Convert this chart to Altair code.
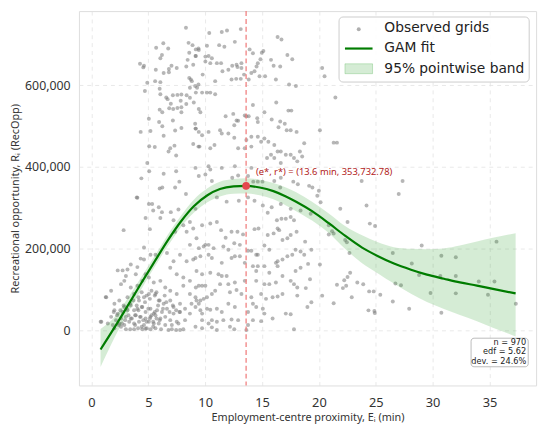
import altair as alt
import pandas as pd

# ---- observed grids: (E_i minutes, R_i in thousands) ----
obs_upper_left = [
(8.31,740.2),(8.54,703.4),(8.89,697.8),(9.18,687.4),(9.41,689.8),(5.69,691.4),(6.32,702.6),(6.75,689.8),
(6.20,673.8),(6.06,665.8),(9.18,671.4),(8.60,679.4),(8.46,661.8),(4.27,652.2),(4.62,647.4),(4.56,643.4),
(5.66,637.8),(6.35,629.8),(6.81,639.4),(7.04,647.4),(6.81,631.4),(7.50,641.8),(8.34,645.8),(8.95,649.8),
(8.60,617.8),(8.74,613.8),(8.83,609.8),(4.91,605.8),(5.60,609.8),(6.06,607.4),(6.00,591.4),(4.70,585.8),
(6.58,569.8),(6.70,565.8),(7.16,575.4),(7.56,576.2),(7.91,577.0),(8.37,575.4),(8.66,593.8),(9.12,597.8),
(9.41,601.8),(6.06,577.8),(7.85,561.8),(8.34,553.8),(6.98,554.6),(7.19,541.8),(6.84,543.4),(7.56,544.2),
(7.91,545.8),(7.91,533.8),(8.66,569.0),(9.00,557.8),(9.18,581.8),(6.00,540.2),(6.23,533.8),(5.05,517.8),
(7.16,513.8),(5.95,509.8),(6.23,499.4),(4.33,485.8),(5.19,488.2),(7.36,489.0),(7.91,495.4),(9.18,493.8),
(9.12,505.8),(6.35,476.2),(5.08,450.6),(5.57,449.0),(6.93,445.8),(7.30,452.2),(6.78,437.8),(7.45,428.2),
(8.95,456.2),(9.41,449.8),(4.91,409.8),(5.08,389.8),(6.35,383.4),(7.45,389.8),(4.39,372.2),(7.73,364.2),
(6.00,347.4),(6.23,349.8),(4.04,325.0),(8.31,333.8),(7.36,349.8),
]
obs_upper_mid = [
(10.36,727.4),(11.46,729.8),(11.92,733.8),(13.13,737.0),(12.61,705.8),(11.23,697.8),(11.69,693.8),(10.16,696.2),
(9.44,685.8),(9.15,671.4),(10.02,669.8),(10.30,671.4),(10.59,665.8),(10.02,657.8),(10.45,653.8),(11.03,653.8),
(11.40,653.8),(12.04,637.8),(12.38,647.4),(12.76,649.8),(12.84,644.2),(13.19,653.8),(13.91,687.4),(14.20,677.8),
(15.12,683.4),(14.98,679.4),(14.63,653.8),(14.52,645.8),(14.34,633.8),(14.06,629.8),(13.42,625.8),(13.19,641.8),
(14.86,663.4),(15.79,661.8),(16.37,717.8),(16.71,711.4),(17.23,673.8),(17.66,663.4),(16.02,647.4),(16.60,645.8),
(9.78,625.8),(10.88,609.8),(11.52,633.8),(12.32,613.8),(12.73,615.4),(13.13,615.4),(13.83,613.8),(14.78,621.8),
(15.27,621.8),(16.22,613.8),(17.38,601.8),(17.98,597.8),(9.29,593.8),(9.73,581.8),(10.16,581.8),(10.45,581.8),
(10.88,577.8),(9.44,541.8),(9.58,533.8),(11.80,524.2),(12.47,529.8),(12.76,513.8),(12.90,513.0),(12.56,501.8),
(13.48,525.8),(13.62,524.2),(13.83,524.2),(14.20,551.4),(14.58,519.4),(14.63,509.8),(15.21,533.8),(15.85,516.2),
(16.25,557.8),(16.60,511.4),(17.32,537.8),(17.58,537.8),(16.45,497.0),(17.00,505.8),(17.17,489.8),(17.52,489.8),
(18.04,485.8),(9.15,493.8),(9.44,485.8),(9.73,477.8),(10.30,485.8),(11.31,489.8),(11.46,481.8),(12.04,481.8),
(12.56,471.4),(13.62,465.8),(14.06,473.8),(14.63,473.8),(15.21,469.8),(15.56,461.8),(16.08,453.8),(16.37,437.8),
(16.65,437.8),(17.09,429.8),(17.52,429.8),(18.33,437.8),(18.53,425.8),(9.50,449.8),(10.45,445.8),(10.82,453.8),
(12.90,445.8),(13.48,445.8),(14.06,449.8),(14.92,461.8),(15.79,429.8),(16.08,421.8),(16.65,409.8),(17.81,421.8),
(18.10,413.8),(10.30,401.8),(10.45,393.8),(10.02,381.8),(11.46,397.8),(12.61,401.8),(14.06,397.8),(13.77,377.8),
(9.44,377.8),(9.15,397.8),(14.23,364.2),(14.63,364.2),(15.04,364.2),(15.44,421.8),(12.38,373.8),(12.90,379.4),
(16.08,365.8),(16.60,349.8),(17.75,364.2),(18.15,357.8),(10.59,365.8),(16.65,373.8),
]
obs_upper_right = [
(20.29,641.9),(20.50,621.9),(21.45,569.9),(20.09,489.9),(18.71,457.9),(21.30,459.5),(21.59,459.5),(19.14,353.9),
(19.43,349.9),(20.00,341.9),(19.86,329.9),(20.15,313.9),(21.88,297.9),(23.76,365.9),(24.19,305.9),(27.02,333.9),
(27.36,365.9),(19.28,285.9),
]
obs_lower_left = [
(3.98,325.7),(5.05,309.7),(5.34,309.7),(5.92,301.7),(5.43,293.7),(6.20,289.7),(6.98,289.7),(7.65,296.1),
(4.76,275.3),(6.06,275.3),(2.83,245.7),(5.14,248.1),(7.22,269.7),(8.08,257.7),(8.66,265.7),(7.36,241.7),
(8.37,241.7),(8.95,249.7),(9.24,225.7),(8.66,209.7),(4.62,203.3),(5.19,185.7),(5.63,185.7),(4.33,176.1),
(4.62,173.7),(3.46,161.7),(4.04,155.3),(2.31,147.3),(2.74,147.3),(3.17,149.7),(3.90,137.7),(4.76,137.7),
(5.05,129.7),(6.64,189.7),(7.22,169.7),(7.79,185.7),(8.37,169.7),(8.95,173.7),(6.93,153.7),(7.50,137.7),
(8.08,129.7),(8.66,121.7),(9.24,145.7),(3.03,133.7),(1.73,97.7),(1.30,81.7),(2.60,113.7),(2.89,121.7),
(3.46,105.7),(4.04,109.7),(4.47,121.7),(5.48,117.7),(6.06,121.7),(6.49,105.7),(6.93,97.7),(7.50,89.7),
(8.08,109.7),(8.66,89.7),(9.18,105.7),(2.02,65.7),(2.45,73.7),(2.89,57.7),(3.17,81.7),(3.75,89.7),
(4.18,73.7),(4.62,81.7),(5.05,89.7),(5.63,89.7),(5.92,73.7),(6.35,65.7),(6.93,73.7),(7.22,57.7),
(7.79,65.7),(8.23,53.7),(8.80,65.7),(9.24,73.7),(2.02,49.7),(2.31,41.7),(2.74,45.7),(3.17,49.7),
(3.46,61.7),(3.75,49.7),(4.04,53.7),(4.47,57.7),(4.76,45.7),(5.19,53.7),(5.48,41.7),(5.77,49.7),
(6.20,45.7),(6.64,53.7),(7.22,41.7),(7.79,45.7),(8.66,41.7),(1.73,33.7),(2.16,25.7),(2.60,29.7),
(3.03,33.7),(3.46,29.7),(3.90,37.7),(4.33,33.7),(4.76,29.7),(5.19,33.7),(5.63,37.7),(6.06,29.7),
(6.49,33.7),(6.93,25.7),(7.50,21.7),(8.23,25.7),(0.87,21.7),(1.44,17.7),(1.88,13.7),(2.45,17.7),
(2.89,13.7),(3.32,21.7),(3.75,17.7),(4.18,21.7),(4.62,13.7),(5.05,21.7),(5.48,17.7),(5.92,17.7),
(6.49,13.7),(7.07,13.7),(7.65,17.7),(2.02,5.7),(2.60,9.7),(3.03,3.3),(3.41,3.3),(3.75,3.3),
(4.10,5.7),(4.47,3.3),(4.76,4.9),(5.19,3.3),(5.63,5.7),(6.12,3.3),(6.78,1.7),(7.07,3.3),
(7.45,1.7),(7.79,1.7),(8.08,3.3),(0.81,22.0),(1.25,82.0),
(1.96,45.7),(2.25,37.7),(2.54,49.7),(2.83,61.7),(3.12,53.7),(3.41,65.7),(3.70,73.7),(3.98,61.7),
(4.13,49.7),(4.42,57.7),(4.71,69.7),(5.00,53.7),(5.28,37.7),(5.57,45.7),(5.86,61.7),(6.00,73.7),
(3.26,37.7),(3.55,29.7),(3.84,37.7),(4.27,33.7),(4.56,25.7),(4.85,21.7),(5.14,29.7),(5.43,21.7),
(2.97,25.7),(2.69,17.7),(2.40,13.7),(3.84,13.7),(4.42,9.7),(4.85,5.7),(5.43,9.7),(5.72,29.7),
(6.00,25.7),(6.29,53.7),(6.58,69.7),(6.87,45.7),(7.16,61.7),(7.45,49.7),(7.74,45.7),(4.13,81.7),
(4.42,93.7),(4.85,85.7),(5.14,77.7),(5.57,85.7),(6.44,85.7),(5.72,93.7),(5.28,97.7),
]
obs_lower_mid = [
(9.15,297.7),(11.03,325.7),(11.89,315.3),(12.96,317.7),(13.77,325.7),(14.34,317.7),(15.07,305.7),(15.85,301.7),
(16.65,309.7),(17.52,297.7),(9.73,257.7),(10.45,261.7),(11.03,265.7),(11.40,245.7),(11.80,227.3),(12.32,241.7),
(12.84,241.7),(13.33,235.3),(14.34,248.1),(14.69,249.7),(15.50,233.7),(16.02,237.7),(16.37,249.7),(16.51,245.7),
(16.31,269.7),(16.71,273.7),(15.50,288.1),(17.09,273.7),(17.52,277.7),(17.81,269.7),(17.23,225.7),(16.80,221.7),
(17.52,233.7),(18.04,241.7),(18.39,293.7),(10.02,209.7),(9.87,205.7),(10.30,209.7),(10.74,201.7),(9.44,201.7),
(11.60,205.7),(12.04,197.7),(12.56,213.7),(13.05,209.7),(13.77,195.3),(14.06,195.3),(14.49,185.7),(14.63,185.7),
(15.21,208.1),(15.64,197.7),(16.37,169.7),(16.80,173.7),(17.23,181.7),(17.66,185.7),(17.95,197.7),(18.39,193.7),
(9.15,177.7),(9.58,181.7),(10.30,185.7),(10.59,177.7),(11.46,165.7),(12.32,177.7),(12.61,181.7),(13.05,181.7),
(13.48,165.7),(14.20,157.7),(14.49,145.7),(14.63,157.7),(15.21,157.7),(16.22,165.7),(15.64,141.7),(16.80,133.7),
(16.37,157.7),(17.95,145.7),(18.39,153.7),(10.45,141.7),(11.17,137.7),(11.46,133.7),(11.89,133.7),(9.73,137.7),
(9.44,109.7),(9.73,109.7),(10.02,109.7),(11.31,113.7),(12.04,113.7),(12.61,117.7),(13.48,121.7),(14.49,121.7),
(15.21,113.7),(15.64,113.7),(16.22,117.7),(17.52,121.7),(17.81,113.7),(18.10,105.7),(9.15,81.7),(9.58,73.7),
(9.44,65.7),(9.87,77.7),(10.16,81.7),(10.59,89.7),(10.88,97.7),(12.18,93.7),(12.76,99.3),(13.19,89.7),
(14.06,81.7),(14.92,89.7),(15.35,77.7),(15.93,81.7),(16.37,83.3),(16.80,89.7),(18.10,85.7),(9.15,57.7),
(9.58,49.7),(9.73,41.7),(10.16,53.7),(10.45,51.3),(11.03,53.7),(11.46,45.7),(12.04,65.7),(12.61,57.7),
(13.77,45.7),(14.20,65.7),(14.49,57.7),(15.07,53.7),(15.93,29.7),(17.09,41.7),(17.52,40.1),(9.73,25.7),
(10.59,25.7),(11.03,21.7),(11.60,25.7),(12.32,27.3),(12.90,25.7),(14.20,25.7),(14.92,23.3),(15.21,41.7),
(9.15,9.7),(9.73,5.7),(10.59,8.1),(11.03,1.7),(12.18,9.7),(12.56,3.3),(13.62,1.7),(17.81,3.3),
(10.30,17.7),(13.77,13.7),
]
obs_lower_right = [
(22.52,265.6),(24.48,261.6),(24.94,256.0),(20.87,257.6),(21.16,243.2),(21.30,237.6),(20.87,235.2),(22.31,221.6),
(22.46,216.0),(22.69,189.6),(26.50,189.6),(28.17,164.0),(29.04,208.0),(30.77,183.2),(32.04,179.2),(28.81,136.0),
(30.68,133.6),(32.04,133.6),(34.06,120.0),(35.44,120.0),(35.62,217.6),(22.75,141.6),(22.52,131.2),(22.23,123.2),
(22.11,104.0),(22.40,109.6),(21.59,112.0),(23.38,117.6),(23.90,113.6),(26.73,115.2),(27.22,111.2),(24.42,96.0),
(24.82,96.0),(25.40,88.0),(20.29,85.6),(21.30,67.2),(22.89,81.6),(26.50,71.2),(27.94,53.6),(29.82,92.0),
(32.04,91.2),(34.87,88.0),(37.32,65.6),(30.77,44.0),(24.36,49.6),(24.88,48.0),(24.91,43.2),(19.34,69.6),
(18.99,57.6),(18.85,104.0),(19.22,125.6),(19.05,163.2),(18.71,185.6),(18.79,217.6),(19.34,197.6),(20.09,161.6),
]

# ---- GAM fit and 95% pointwise band (thousands) ----
fit_e  = [0.8, 2.1, 3.3, 4.4, 5.6, 6.7, 7.9, 9.0, 10.2, 11.3, 12.5, 13.6, 14.8, 16.0, 17.1,
          18.0, 19.4, 20.9, 22.3, 23.8, 25.2, 26.6, 28.1, 29.5, 31.0, 32.4, 33.9, 35.3, 37.3]
fit_r  = [-46, 11, 66, 117, 171, 220, 268, 304, 331, 346, 352.5, 353.733, 350, 341, 328,
          315, 292, 262, 232, 203, 182, 164, 149, 137, 127, 118, 110, 102, 91]
band_lo = [-89, -13, 48, 102, 158, 206, 254, 288, 314, 328, 334.5, 335.2, 331, 321, 306,
           292, 269, 238, 200, 165, 140, 115, 90, 70, 53, 38, 23, 7, -14]
band_hi = [4, 35, 84, 132, 184, 234, 282, 320, 348, 364, 370.5, 372.2, 369, 361, 350,
           338, 315, 286, 256, 233, 216, 204, 200, 199, 201, 208, 218, 227, 238]

peak_e = [13.6]
peak_r = [353732.78]
stats_lines = ["n = 970", "edf = 5.62", "dev. = 24.6%"]
legend_labels = ["Observed grids", "GAM fit", "95% pointwise band"]

x_ticks = [0, 5, 10, 15, 20, 25, 30, 35]
y_ticks = [0, 200000, 400000, 600000]

obs = obs_upper_left + obs_upper_mid + obs_upper_right + obs_lower_left + obs_lower_mid + obs_lower_right
obs_df = pd.DataFrame({"e": [p[0] for p in obs], "r": [p[1] * 1000 for p in obs]})
fit_df = pd.DataFrame({"e": fit_e, "r": [v * 1000 for v in fit_r],
                       "lo": [v * 1000 for v in band_lo], "hi": [v * 1000 for v in band_hi]})
peak_df = pd.DataFrame({"e": peak_e, "r": peak_r,
                        "label": ["(e*, r*) = (13.6 min, 353,732.78)"]})

W, H = 464, 380
xs = alt.Scale(domain=[-1.1, 39.1], nice=False, zero=False)
ys = alt.Scale(domain=[-134000, 781000], nice=False, zero=False)

xaxis = alt.Axis(values=x_ticks, title="Employment-centre proximity, Eᵢ (min)", format="d",
                 grid=True, gridDash=[4, 4], gridColor="#e3e3e3", gridWidth=0.8,
                 domain=False, ticks=False, labelPadding=11, labelFontSize=13,
                 labelFont="Noto Sans", labelColor="#333333", titleFont="Noto Sans",
                 titleFontSize=11, titleFontWeight="normal", titleColor="#333333", titlePadding=3)
yaxis = alt.Axis(values=y_ticks, title="Recreational opportunity, Rᵢ (RecOpp)", format=",d",
                 grid=True, gridDash=[4, 4], gridColor="#e3e3e3", gridWidth=0.8,
                 domain=False, ticks=False, labelPadding=9, labelFontSize=12.5,
                 labelFont="Noto Sans", labelColor="#333333", titleFont="Noto Sans",
                 titleFontSize=11, titleFontWeight="normal", titleColor="#333333",
                 titleX=-64, titleY=H / 2, titleAlign="center", titleBaseline="middle", titleAngle=270)

points = alt.Chart(obs_df).mark_circle(size=16, color="#7a7a7a", opacity=0.55).encode(
    x=alt.X("e:Q", scale=xs, axis=xaxis),
    y=alt.Y("r:Q", scale=ys, axis=yaxis),
)
band = alt.Chart(fit_df).mark_area(color="#2ca02c", opacity=0.2, interpolate="monotone").encode(
    x=alt.X("e:Q", scale=xs), y=alt.Y("lo:Q", scale=ys), y2="hi:Q")
line = alt.Chart(fit_df).mark_line(color="#007c00", strokeWidth=2.2, interpolate="monotone").encode(
    x=alt.X("e:Q", scale=xs), y=alt.Y("r:Q", scale=ys))
vrule = alt.Chart(peak_df).mark_rule(color="#f08080", strokeDash=[5, 3], strokeWidth=1.3).encode(
    x=alt.X("e:Q", scale=xs))
peak = alt.Chart(peak_df).mark_circle(size=60, color="#e5474f", opacity=1).encode(
    x=alt.X("e:Q", scale=xs), y=alt.Y("r:Q", scale=ys))
peak_text = alt.Chart(peak_df).mark_text(align="left", baseline="middle", dx=10, dy=-14,
                                         fontSize=9.5, font="Noto Sans", color="#b22222").encode(
    x=alt.X("e:Q", scale=xs), y=alt.Y("r:Q", scale=ys), text="label:N")

one = pd.DataFrame({"k": [0]})
leg_box = alt.Chart(one).mark_rect(fill="white", fillOpacity=0.85, stroke="#cccccc", strokeWidth=1,
                                   cornerRadius=4).encode(
    x=alt.value(264), x2=alt.value(457), y=alt.value(6), y2=alt.value(72))
leg_pt = alt.Chart(one).mark_circle(size=16, color="#7a7a7a", opacity=0.6).encode(
    x=alt.value(284), y=alt.value(18.5))
leg_ln = alt.Chart(one).mark_rule(color="#007c00", strokeWidth=2.2).encode(
    x=alt.value(270), x2=alt.value(298), y=alt.value(38))
leg_rect = alt.Chart(one).mark_rect(fill="#2ca02c", fillOpacity=0.2, stroke="#2ca02c",
                                    strokeOpacity=0.25).encode(
    x=alt.value(270), x2=alt.value(298), y=alt.value(53.5), y2=alt.value(63.5))
leg_txt = [alt.Chart(one).mark_text(align="left", baseline="middle", fontSize=14,
                                    font="DejaVu Sans", color="#222222", text=t).encode(
    x=alt.value(310), y=alt.value(yy)) for t, yy in zip(legend_labels, [17.5, 38, 58.5])]

st_box = alt.Chart(one).mark_rect(fill="white", fillOpacity=0.85, stroke="#bbbbbb", strokeWidth=1,
                                  cornerRadius=3).encode(
    x=alt.value(398), x2=alt.value(456), y=alt.value(332), y2=alt.value(361))
st_txt = [alt.Chart(one).mark_text(align="right", baseline="middle", fontSize=8.3,
                                   font="DejaVu Sans", color="#222222", text=t).encode(
    x=alt.value(454), y=alt.value(yy)) for t, yy in zip(stats_lines, [337, 346.5, 356])]

chart = alt.layer(points, band, line, vrule, peak, peak_text, leg_box, leg_pt, leg_ln, leg_rect,
                  *leg_txt, st_box, *st_txt).properties(
    width=W, height=H,
    padding={"left": 72, "top": 0, "right": 6, "bottom": 40},
    autosize=alt.AutoSizeParams(type="none"),
).configure_view(stroke="#cccccc", strokeWidth=1.5).configure(background="white")

chart.save("out.html", embed_options={"renderer": "svg", "actions": False})
